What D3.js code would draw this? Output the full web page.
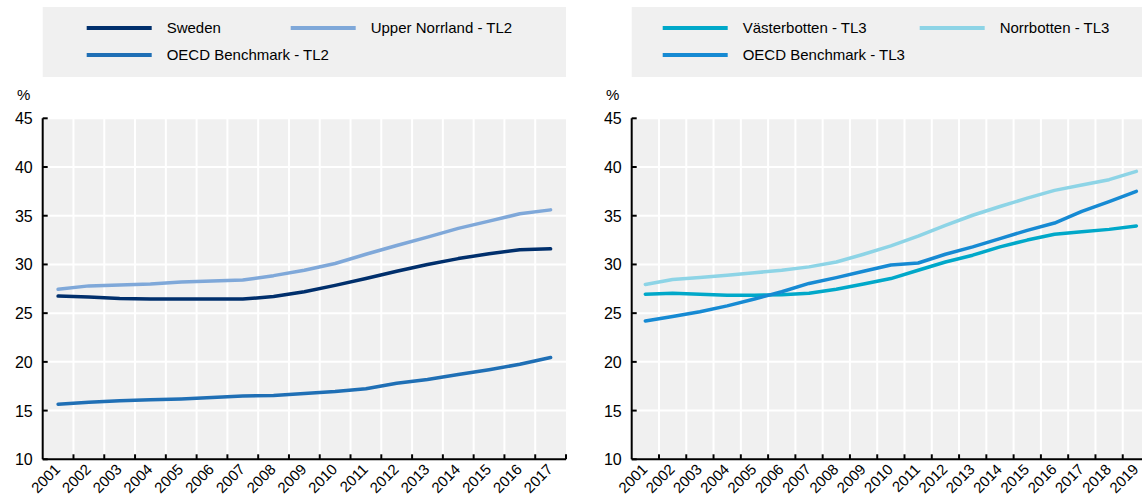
<!DOCTYPE html>
<html>
<head>
<meta charset="utf-8">
<script src="https://cdn.jsdelivr.net/npm/d3@7"></script>
<style>
  html, body { margin: 0; padding: 0; background: #fff; }
  svg text { font-family: "Liberation Sans Narrow", "Arial Narrow", "Liberation Sans", Arial, sans-serif; fill: #000; }
</style>
</head>
<body>
<svg id="chart" width="1142" height="501"></svg>
<script>
// Years for each panel
const yearsTL2 = d3.range(2001, 2018).map(String);
const yearsTL3 = d3.range(2001, 2020).map(String);

// Y ticks (shared)
const yTicks = [10, 15, 20, 25, 30, 35, 40, 45];

// Left panel series (%)
const sweden = [26.75, 26.65, 26.5, 26.45, 26.45, 26.45, 26.45, 26.7, 27.2, 27.85, 28.55, 29.3, 30.0, 30.6, 31.1, 31.5, 31.6];
const upperNorrland = [27.45, 27.8, 27.9, 28.0, 28.2, 28.3, 28.4, 28.85, 29.4, 30.1, 31.05, 31.95, 32.8, 33.7, 34.45, 35.2, 35.6];
const oecdTL2 = [15.65, 15.85, 16.0, 16.1, 16.2, 16.35, 16.5, 16.55, 16.75, 16.95, 17.25, 17.8, 18.2, 18.7, 19.2, 19.75, 20.45];

// Right panel series (%)
const vasterbotten = [26.95, 27.05, 26.95, 26.85, 26.85, 26.9, 27.05, 27.45, 28.0, 28.55, 29.4, 30.25, 30.95, 31.8, 32.5, 33.1, 33.35, 33.6, 33.95];
const norrbotten = [27.95, 28.45, 28.65, 28.9, 29.15, 29.4, 29.75, 30.25, 31.05, 31.9, 32.9, 34.0, 35.05, 35.95, 36.8, 37.6, 38.15, 38.7, 39.55];
const oecdTL3 = [24.2, 24.65, 25.15, 25.75, 26.45, 27.2, 28.05, 28.65, 29.3, 29.95, 30.15, 31.05, 31.8, 32.65, 33.5, 34.25, 35.45, 36.45, 37.5];

const svg = d3.select("#chart");

function drawPanel(opts) {
    const left = opts.left, right = opts.right;
    const top = 118.3, bottom = 459.3;

    const x = d3.scaleBand().domain(opts.years).range([left, right]).paddingInner(0).paddingOuter(0);
    const y = d3.scaleLinear().domain([10, 45]).range([bottom, top]);

    const g = svg.append("g");

    // Legend box
    g.append("rect")
        .attr("x", left).attr("y", 7)
        .attr("width", opts.legendRight - left).attr("height", 70)
        .attr("fill", "#f0f0f0");

    opts.series.forEach(function(s, i) {
        const lx = left + opts.legendCols[s.col];
        const ly = s.row === 0 ? 28 : 55;
        g.append("line")
            .attr("x1", lx).attr("x2", lx + 65)
            .attr("y1", ly).attr("y2", ly)
            .attr("stroke", s.color).attr("stroke-width", 4);
        g.append("text")
            .attr("x", lx + 80).attr("y", ly + 5)
            .style("font-size", "15px")
            .text(s.name);
    });

    // Plot background
    g.append("rect")
        .attr("x", left).attr("y", top)
        .attr("width", right - left).attr("height", bottom - top)
        .attr("fill", "#f0f0f0");

    // Horizontal gridlines
    g.selectAll(".hgrid")
        .data(yTicks.slice(1))
        .enter().append("line")
        .attr("x1", left).attr("x2", right)
        .attr("y1", d => y(d)).attr("y2", d => y(d))
        .attr("stroke", "#fff").attr("stroke-width", 2);

    // Vertical gridlines at band boundaries
    g.selectAll(".vgrid")
        .data(opts.years.slice(1))
        .enter().append("line")
        .attr("x1", d => x(d)).attr("x2", d => x(d))
        .attr("y1", top).attr("y2", bottom)
        .attr("stroke", "#fff").attr("stroke-width", 2);

    // Lines
    const line = d3.line()
        .x((d, i) => x(opts.years[i]) + x.bandwidth() / 2)
        .y(d => y(d));

    opts.series.forEach(function(s) {
        g.append("path")
            .datum(s.values)
            .attr("d", line)
            .attr("fill", "none")
            .attr("stroke", s.color)
            .attr("stroke-width", 3.5)
            .attr("stroke-linejoin", "round")
            .attr("stroke-linecap", "round");
    });

    // Y axis
    g.append("line")
        .attr("x1", left).attr("x2", left)
        .attr("y1", top).attr("y2", bottom)
        .attr("stroke", "#000").attr("stroke-width", 2);
    g.selectAll(".ytick")
        .data(yTicks)
        .enter().append("line")
        .attr("x1", left).attr("x2", left + 5)
        .attr("y1", d => y(d)).attr("y2", d => y(d))
        .attr("stroke", "#000").attr("stroke-width", 2);
    g.selectAll(".ylabel")
        .data(yTicks)
        .enter().append("text")
        .attr("x", left - 10).attr("y", d => y(d) + 6)
        .attr("text-anchor", "end")
        .style("font-size", "16px")
        .text(d => d);
    g.append("text")
        .attr("x", left - 19).attr("y", 100)
        .attr("text-anchor", "middle")
        .style("font-size", "15px")
        .text("%");

    // X axis
    g.append("line")
        .attr("x1", left).attr("x2", right)
        .attr("y1", bottom).attr("y2", bottom)
        .attr("stroke", "#000").attr("stroke-width", 2);
    const boundaries = opts.years.slice(1).map(d => x(d)).concat([right]);
    g.selectAll(".xtick")
        .data(boundaries)
        .enter().append("line")
        .attr("x1", d => d).attr("x2", d => d)
        .attr("y1", bottom).attr("y2", bottom - 5)
        .attr("stroke", "#000").attr("stroke-width", 2);
    g.selectAll(".xlabel")
        .data(opts.years)
        .enter().append("text")
        .attr("transform", d => `translate(${x(d) + x.bandwidth() / 2 + 3},${bottom + 11}) rotate(-45)`)
        .attr("text-anchor", "end")
        .style("font-size", "15px")
        .text(d => d);
}

drawPanel({
    left: 42.7, right: 566, legendRight: 566,
    years: yearsTL2,
    legendCols: [44, 248],
    series: [
        { name: "Sweden", values: sweden, color: "#002f6c", row: 0, col: 0 },
        { name: "Upper Norrland - TL2", values: upperNorrland, color: "#7fa8d9", row: 0, col: 1 },
        { name: "OECD Benchmark - TL2", values: oecdTL2, color: "#1f6fb5", row: 1, col: 0 }
    ]
});

drawPanel({
    left: 631.7, right: 631.7 + 19 * 27.28, legendRight: 1142,
    years: yearsTL3,
    legendCols: [31, 288],
    series: [
        { name: "Västerbotten - TL3", values: vasterbotten, color: "#00a8c9", row: 0, col: 0 },
        { name: "Norrbotten - TL3", values: norrbotten, color: "#8dd4e6", row: 0, col: 1 },
        { name: "OECD Benchmark - TL3", values: oecdTL3, color: "#168ad3", row: 1, col: 0 }
    ]
});
</script>
</body>
</html>
